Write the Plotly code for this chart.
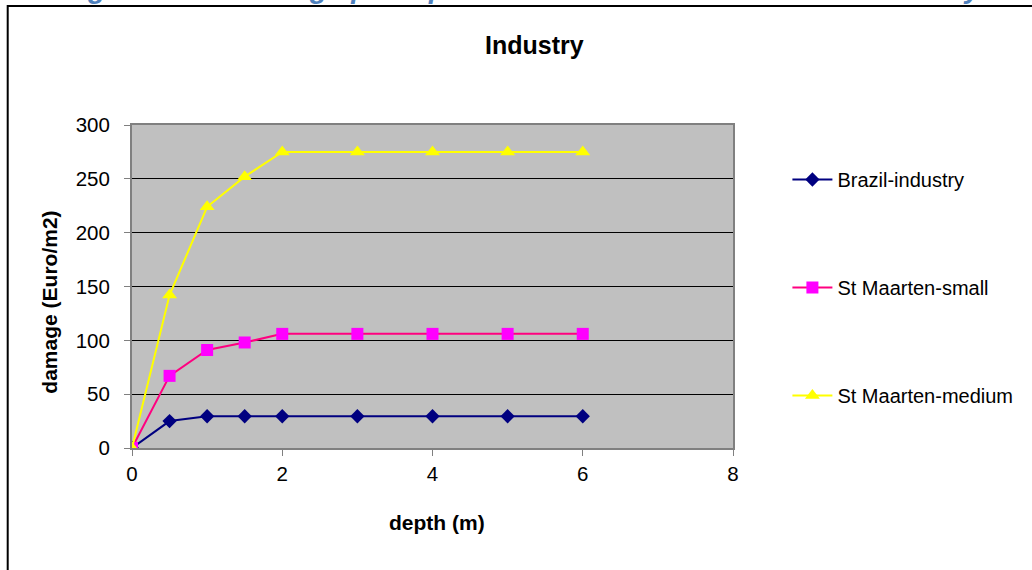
import plotly.graph_objects as go

depth = [0, 0.5, 1, 1.5, 2, 3, 4, 5, 6]
brazil_industry = [0, 25, 29.5, 29.5, 29.5, 29.5, 29.5, 29.5, 29.5]
st_maarten_small = [0, 67, 91, 98, 106, 106, 106, 106, 106]
st_maarten_medium = [0, 142, 224, 252, 275, 275, 275, 275, 275]

series_names = ["Brazil-industry", "St Maarten-small", "St Maarten-medium"]
x_ticks = [0, 2, 4, 6, 8]
y_ticks = [0, 50, 100, 150, 200, 250, 300]

W, H = 1032, 570
L, R, T, B = 131.5, 733.5, 125, 448
pw, ph = R - L, B - T

def px(x):
    return (x - L) / pw

def py(y):
    return (B - y) / ph

FONT = "Liberation Sans, Arial, sans-serif"

fig = go.Figure()
fig.add_trace(go.Scatter(x=depth, y=brazil_industry, name=series_names[0], mode="lines+markers",
                         line=dict(color="#000080", width=2),
                         marker=dict(symbol="diamond", size=11, color="#000080"),
                         legendgroup="a"))
fig.add_trace(go.Scatter(x=depth, y=st_maarten_small, name=series_names[1], mode="lines+markers",
                         line=dict(color="#FF0080", width=2),
                         marker=dict(symbol="square", size=12, color="#FF00FF"),
                         legendgroup="b"))
fig.add_trace(go.Scatter(x=depth, y=st_maarten_medium, name=series_names[2], mode="lines+markers",
                         line=dict(color="#FFFF00", width=2),
                         marker=dict(symbol="triangle-up", size=13, color="#FFFF00"),
                         legendgroup="c"))

fig.update_layout(
    width=W, height=H,
    margin=dict(l=L, r=W - R, t=T, b=H - B, pad=0),
    paper_bgcolor="white",
    plot_bgcolor="#C0C0C0",
    font=dict(family=FONT, size=20, color="black"),
    xaxis=dict(range=[0, 8], tickvals=x_ticks, ticks="outside", ticklen=6, tickcolor="#808080",
               showline=True, linecolor="#808080", linewidth=2, mirror=True, showgrid=False,
               zeroline=False, tickfont=dict(size=20.5)),
    yaxis=dict(range=[0, 300], tickvals=y_ticks, ticks="outside", ticklen=6, tickcolor="#808080",
               showline=True, linecolor="#808080", linewidth=2, mirror=True,
               showgrid=True, gridcolor="black", gridwidth=1, zeroline=False,
               tickfont=dict(size=20.5), ticklabelstandoff=10),
    legend=dict(x=px(788), xanchor="left", y=py(160), yanchor="top",
                bgcolor="rgba(0,0,0,0)", font=dict(size=20), tracegroupgap=79,
                itemwidth=40),
    showlegend=True,
)

# chart title
fig.add_annotation(text="<b>Industry</b>", xref="paper", yref="paper",
                   x=px(535), y=py(45), xanchor="center", yanchor="middle",
                   showarrow=False, font=dict(size=25, family=FONT))
# axis titles
fig.add_annotation(text="<b>depth (m)</b>", xref="paper", yref="paper",
                   x=px(437), y=py(522), xanchor="center", yanchor="middle",
                   showarrow=False, font=dict(size=21, family=FONT))
fig.add_annotation(text="<b>damage (Euro/m2)</b>", xref="paper", yref="paper",
                   x=px(48), y=py(302), xanchor="center", yanchor="middle", textangle=-90,
                   showarrow=False, font=dict(size=21, family=FONT))

# outer chart frame (left and top edges visible, others beyond window)
fig.add_shape(type="rect", xref="paper", yref="paper",
              x0=px(7), y0=py(700), x1=px(1100), y1=py(6),
              line=dict(color="black", width=2), fillcolor="rgba(0,0,0,0)", layer="below")

# document caption, cut at the top of the window
fig.add_annotation(text="<b><i>Figure 3-23: Damage per square meter for South America – Industry.</i></b>",
                   xref="paper", yref="paper", x=px(60), y=py(6.5), xanchor="left", yanchor="bottom",
                   showarrow=False, font=dict(size=28.5, color="#4F81BD", family=FONT))

fig.write_html("out.html", config={"displayModeBar": False},
               post_script="document.body.style.margin='0';")
